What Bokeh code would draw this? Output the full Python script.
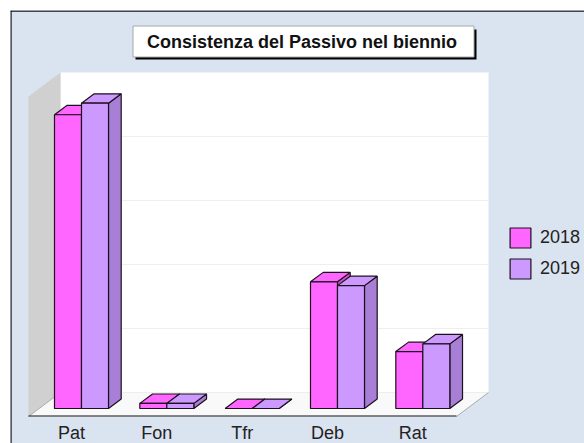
from bokeh.plotting import figure
from bokeh.models import Range1d, LinearAxis, FixedTicker, Legend, LegendItem, Span
from bokeh.core.properties import value
from bokeh.embed import file_html
from bokeh.resources import INLINE

categories = ["Pat", "Fon", "Tfr", "Deb", "Rat"]
series_names = ["2018", "2019"]
values_2018 = [4.59, 0.08, 0.0, 1.98, 0.89]
values_2019 = [4.77, 0.08, 0.0, 1.92, 1.01]
gridlines = [1, 2, 3, 4]
title_text = "Consistenza del Passivo nel biennio"

BG = "#DAE3F0"
FRONT = ["#FF66FF", "#CC99FF"]
SIDE = ["#CC52CC", "#A87FD6"]
EDGE = "#1C101C"

SX, SY = 85.33, 64.0
X0, Y0 = 81.0, 408.0
xd = lambda px: (px - X0) / SX
yd = lambda py: (Y0 - py) / SY

p = figure(width=584, height=443, output_backend="svg", toolbar_location=None,
           x_range=Range1d(xd(10), xd(584)), y_range=Range1d(yd(443), yd(10)),
           x_axis_type=None, y_axis_type=None,
           min_border_left=10, min_border_right=0, min_border_top=10, min_border_bottom=0)
p.background_fill_color = BG
p.border_fill_color = "#FFFFFF"
p.outline_line_color = None
p.grid.visible = False

p.add_layout(Span(location=yd(10.4), dimension="width", line_color="#111111", line_width=1.5))
p.add_layout(Span(location=xd(10.4), dimension="height", line_color="#111111", line_width=1.5))

p.patch([xd(60), xd(488), xd(488), xd(60)], [0.25, 0.25, 5.25, 5.25], fill_color="#FFFFFF", line_color=None)
p.patch([xd(28), xd(60), xd(60), xd(28)], [yd(416), 0.25, 5.25, yd(96)], fill_color="#D0D0D0", line_color=None)
p.patch([xd(28), xd(60), xd(488), xd(456)], [yd(416), 0.25, 0.25, yd(416)],
        fill_color="#F9F9F9", line_color=None)
for g in gridlines + [0]:
    p.line([xd(60), xd(488)], [g + 0.25, g + 0.25], line_color="#EEEEEE", line_width=1)
p.line([xd(28), xd(60)], [yd(416), 0.25], line_color="#999999", line_width=0.8)
p.line([xd(456), xd(488)], [yd(416), 0.25], line_color="#999999", line_width=0.8)
p.line([xd(28), xd(456)], [yd(415.5), yd(415.5)], line_color="#111111", line_width=1.2)

W = 27 / SX
DX, DY = 12.7 / SX, 9.4 / SY
legend_items = []
for s, vals in enumerate([values_2018, values_2019]):
    for i, v in enumerate(vals):
        l = i + (s - 1) * W
        r = l + W
        p.patch([r, r + DX, r + DX, r], [0, DY, v + DY, v], fill_color=SIDE[s], line_color=EDGE, line_width=1.2)
        p.patch([l, r, r + DX, l + DX], [v, v, v + DY, v + DY], fill_color=FRONT[s], line_color=EDGE, line_width=1.2)
    lefts = [i + (s - 1) * W for i in range(len(vals))]
    rights = [x + W for x in lefts]
    q = p.quad(left=lefts, right=rights, bottom=[0] * len(vals), top=vals,
               fill_color=FRONT[s], line_color=EDGE, line_width=1.2)
    legend_items.append(LegendItem(label=series_names[s], renderers=[q]))

legend = Legend(items=legend_items, location=(497, 162), orientation="vertical",
                background_fill_alpha=0, border_line_color=None, padding=0, margin=0,
                glyph_width=26, glyph_height=25, spacing=6, label_standoff=7,
                label_text_font="Liberation Sans", label_text_font_size="18px",
                label_text_color="#222222", label_height=25)
p.add_layout(legend, "center")

ticks = [round(i - 10 / SX, 4) for i in range(len(categories))]
axis = LinearAxis(ticker=FixedTicker(ticks=ticks), fixed_location=yd(413),
                  major_label_overrides={t: c for t, c in zip(ticks, categories)},
                  axis_line_color=None, major_tick_line_color=None, minor_tick_line_color=None,
                  major_label_text_font="Liberation Sans", major_label_text_font_size="18px",
                  major_label_text_color="#222222", major_label_standoff=3)
p.add_layout(axis, "below")

p.quad(left=[xd(135)], right=[xd(476)], top=[yd(29)], bottom=[yd(59)], fill_color="#000000", line_color=None)
p.quad(left=[xd(132.5)], right=[xd(473.5)], top=[yd(25.5)], bottom=[yd(56.5)], fill_color="#FFFFFF",
       line_color="#A8A8A8", line_width=1)
p.text(x=[xd(301.5)], y=[yd(41)], text=[title_text], text_align="center", text_baseline="middle",
       text_font=value("Liberation Sans"), text_font_style="bold", text_font_size="18px", text_color="#111111")

open("out.html", "w").write(file_html(p, INLINE))
